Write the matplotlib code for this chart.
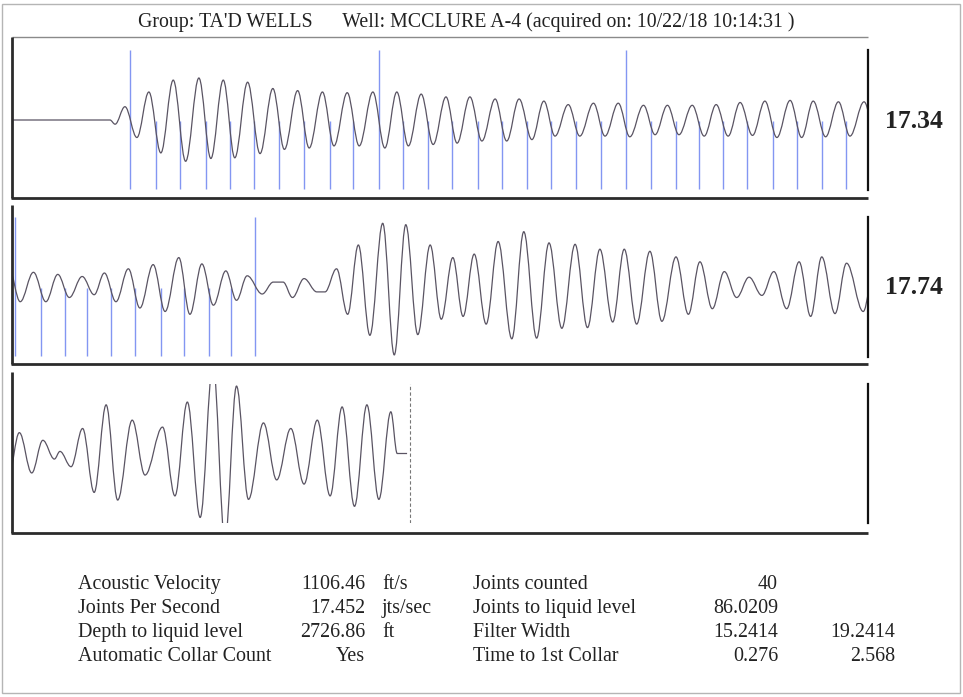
# Acoustic fluid level shot - three rows of 2 s each, collar markers in blue

import matplotlib
matplotlib.use('Agg')
import matplotlib.pyplot as plt
from matplotlib.path import Path
from matplotlib.patches import PathPatch, Rectangle
from matplotlib.lines import Line2D

plt.rcParams['font.family'] = ['Liberation Serif', 'DejaVu Serif']

title = "Group: TA'D WELLS      Well: MCCLURE A-4 (acquired on: 10/22/18 10:14:31 )"

# trace extrema: time (s) and amplitude (-1..1 of the row height)
trace_t = [0.000, 0.228, 0.240, 0.263, 0.291, 0.319, 0.347, 0.376, 0.405, 0.436,
           0.464, 0.493, 0.520, 0.550, 0.579, 0.609, 0.636, 0.667, 0.694, 0.725,
           0.752, 0.783, 0.811, 0.843, 0.871, 0.899, 0.926, 0.956, 0.984, 1.014,
           1.040, 1.070, 1.098, 1.129, 1.156, 1.185, 1.215, 1.243, 1.269, 1.300,
           1.327, 1.359, 1.386, 1.417, 1.444, 1.476, 1.503, 1.532, 1.559, 1.590,
           1.618, 1.646, 1.674, 1.702, 1.731, 1.760, 1.788, 1.819, 1.846, 1.873,
           1.902, 1.932, 1.959, 1.992,
           2.018, 2.049, 2.078, 2.106, 2.133, 2.163, 2.191, 2.215, 2.242, 2.271,
           2.298, 2.329, 2.357, 2.389, 2.415, 2.443, 2.470, 2.499, 2.524, 2.549,
           2.584, 2.610, 2.633, 2.655, 2.682, 2.712, 2.731, 2.758, 2.784, 2.809,
           2.836, 2.866, 2.893, 2.920, 2.948, 2.977, 3.003, 3.030, 3.054, 3.080,
           3.108, 3.136, 3.168, 3.196, 3.226, 3.255, 3.285, 3.316, 3.345, 3.374,
           3.404, 3.431, 3.460, 3.491, 3.519, 3.552, 3.581, 3.608, 3.637, 3.665,
           3.694, 3.723, 3.753, 3.781, 3.811, 3.840, 3.867, 3.893, 3.924, 3.951,
           3.990,
           4.016, 4.045, 4.071, 4.098, 4.111, 4.137, 4.164, 4.191, 4.219, 4.246,
           4.280, 4.310, 4.351, 4.380, 4.409, 4.439, 4.469, 4.497, 4.524, 4.552,
           4.587, 4.618, 4.651, 4.682, 4.713, 4.743, 4.771, 4.800, 4.829, 4.857,
           4.885, 4.900, 4.923]
trace_a = [0.00, 0.00, -0.06, 0.19, -0.25, 0.40, -0.47, 0.57, -0.59, 0.60,
           -0.55, 0.57, -0.54, 0.54, -0.48, 0.45, -0.42, 0.42, -0.40, 0.40,
           -0.37, 0.39, -0.37, 0.40, -0.40, 0.40, -0.37, 0.37, -0.35, 0.33,
           -0.33, 0.33, -0.30, 0.30, -0.30, 0.30, -0.28, 0.27, -0.23, 0.22,
           -0.23, 0.24, -0.23, 0.24, -0.24, 0.21, -0.21, 0.21, -0.21, 0.21,
           -0.23, 0.22, -0.23, 0.25, -0.22, 0.27, -0.25, 0.28, -0.25, 0.27,
           -0.24, 0.26, -0.23, 0.26,
           -0.21, 0.21, -0.21, 0.18, -0.15, 0.15, -0.11, 0.20, -0.21, 0.26,
           -0.30, 0.32, -0.35, 0.42, -0.39, 0.33, -0.26, 0.23, -0.19, 0.16,
           -0.10, 0.07, 0.07, -0.15, 0.12, -0.07, -0.07, 0.26, -0.39, 0.60,
           -0.69, 0.91, -0.97, 0.89, -0.68, 0.60, -0.46, 0.42, -0.42, 0.47,
           -0.53, 0.65, -0.74, 0.79, -0.73, 0.63, -0.59, 0.61, -0.58, 0.54,
           -0.50, 0.54, -0.53, 0.51, -0.49, 0.43, -0.39, 0.36, -0.31, 0.22,
           -0.15, 0.14, -0.12, 0.22, -0.31, 0.36, -0.42, 0.43, -0.38, 0.34,
           -0.35,
           0.30, -0.28, 0.19, -0.08, 0.03, -0.19, 0.36, -0.56, 0.70, -0.67,
           0.48, -0.31, 0.38, -0.61, 0.74, -0.92, 1.30, -1.25, 0.97, -0.66,
           0.44, -0.38, 0.36, -0.44, 0.48, -0.61, 0.67, -0.76, 0.70, -0.66,
           0.60, 0.00, 0.00]

# detected collars (s), every 10th is drawn long
collar_t = [0.276, 0.336, 0.392, 0.452, 0.508, 0.565, 0.624, 0.682, 0.743, 0.797,
            0.857, 0.913, 0.973, 1.029, 1.090, 1.144, 1.203, 1.260, 1.317, 1.377,
            1.434, 1.494, 1.551, 1.606, 1.663, 1.719, 1.778, 1.836, 1.893, 1.949,
            2.006, 2.066, 2.123, 2.175, 2.230, 2.287, 2.347, 2.402, 2.460, 2.511,
            2.568]
liquid_level_t = 4.929
row_labels = ['17.34', '17.74', '']

table_left = ['Acoustic Velocity', 'Joints Per Second', 'Depth to liquid level', 'Automatic Collar Count']
table_vals = ['1106.46', '17.452', '2726.86', 'Yes']
table_units = ['ft/s', 'jts/sec', 'ft', '']
table_right = ['Joints counted', 'Joints to liquid level', 'Filter Width', 'Time to 1st Collar']
table_vals2 = ['40', '86.0209', '15.2414', '0.276']
table_vals3 = ['', '', '19.2414', '2.568']

W, H = 963, 697
trace_color = '#5a5463'
marker_color = '#8396f2'
frame_color = '#2b2b2b'


def fx(x):
    return x / W


def fy(y):
    return 1 - y / H


def smooth_path(t, a, k=0.3642):
    # cubic bezier between successive extrema, flat tangent at each one
    verts = [(t[0], a[0])]
    codes = [Path.MOVETO]
    for i in range(len(t) - 1):
        dt = t[i + 1] - t[i]
        verts += [(t[i] + k * dt, a[i]), (t[i + 1] - k * dt, a[i + 1]), (t[i + 1], a[i + 1])]
        codes += [Path.CURVE4] * 3
    return Path(verts, codes)


fig = plt.figure(figsize=(W / 100, H / 100), dpi=100)
fig.patch.set_facecolor('white')

def fig_line(x0, y0, x1, y1, lw=2.0, color=frame_color, **kw):
    fig.add_artist(Line2D([fx(x0), fx(x1)], [fy(y0), fy(y1)], transform=fig.transFigure,
                          lw=lw, color=color, solid_capstyle='butt', **kw))

# page border from the scan
fig.add_artist(Rectangle((fx(2), fy(693)), fx(958), (693 - 4) / H, transform=fig.transFigure,
                         fill=False, ec='#b5b5b5', lw=1.0))

fig.text(fx(466), fy(27), title, ha='center', va='baseline', fontsize=14.3, color='#222222')

# row frames
fig_line(12, 37, 868, 37, lw=1.0, color='#8a8a8a')
row_boxes = [(37, 198), (205, 364), (372, 533)]
for top, bot in row_boxes:
    fig_line(12, top, 12, bot)
    fig_line(11, bot, 868, bot)

axes_rows = [(50, 190), (217, 357), (384, 523)]
path = smooth_path(trace_t, trace_a)

for r, (top, bot) in enumerate(axes_rows):
    ax = fig.add_axes([fx(12.5), fy(bot), fx(867.5) - fx(12.5), (bot - top) / H])
    t0 = 2.0 * r
    ax.set_xlim(t0, t0 + 2.0)
    ax.set_ylim(-1, 1)
    ax.set_facecolor('none')
    for side in ['left', 'top', 'bottom']:
        ax.spines[side].set_visible(False)
    ax.spines['right'].set_linewidth(1.6)
    ax.spines['right'].set_color('#111111')
    ax.set_xticks([])
    ax.set_yticks([])

    for k, ct in enumerate(collar_t):
        if t0 <= ct < t0 + 2.0:
            y_top = 1.0 if k % 10 == 0 else -0.02
            ax.vlines(ct, -0.98, y_top, color=marker_color, lw=1.0, zorder=1)

    ax.add_patch(PathPatch(path, fill=False, ec=trace_color, lw=0.9, zorder=2))

    if t0 <= liquid_level_t < t0 + 2.0:
        ax.vlines(liquid_level_t, -1, 1, color='#777777', lw=0.8, linestyles=(0, (3, 2)))

    if row_labels[r]:
        fig.text(fx(885), fy((top + bot) / 2 + 1), row_labels[r], ha='left', va='center',
                 fontsize=18.5, fontweight='bold', color='#222222')

# summary table
row_y = [589, 613, 637, 661]
for i, y in enumerate(row_y):
    fig.text(fx(78), fy(y), table_left[i], ha='left', va='baseline', fontsize=14.4, color='#222222')
    fig.text(fx(365), fy(y), table_vals[i], ha='right', va='baseline', fontsize=14.4, color='#222222')
    fig.text(fx(382), fy(y), table_units[i], ha='left', va='baseline', fontsize=14.4, color='#222222')
    fig.text(fx(473), fy(y), table_right[i], ha='left', va='baseline', fontsize=14.4, color='#222222')
    fig.text(fx(778), fy(y), table_vals2[i], ha='right', va='baseline', fontsize=14.4, color='#222222')
    fig.text(fx(895), fy(y), table_vals3[i], ha='right', va='baseline', fontsize=14.4, color='#222222')

fig.savefig('out.png', dpi=100)
